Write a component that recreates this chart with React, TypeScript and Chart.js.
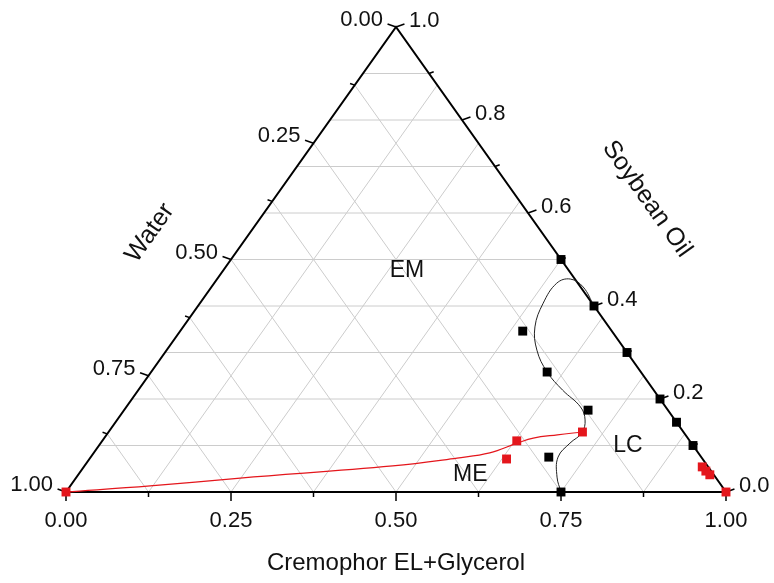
import React, { useEffect, useRef } from 'react';
import { Chart, registerables } from 'chart.js';

Chart.register(...registerables);

// Compositions as mass fractions. C = Cremophor EL+Glycerol, O = Soybean Oil, Water = 1 - C - O.
// Phase boundary between the EM region and the LC region
const boundaryCremophor = [0.6, 0.563, 0.535, 0.519, 0.52, 0.533, 0.561, 0.6, 0.643, 0.688, 0.709, 0.718, 0.711, 0.708, 0.728, 0.75];
const boundaryOil = [0.4, 0.441, 0.458, 0.449, 0.406, 0.355, 0.305, 0.258, 0.219, 0.183, 0.155, 0.127, 0.105, 0.075, 0.032, 0];

// Upper limit of the microemulsion (ME) region
const meCremophor = [0, 0.121, 0.249, 0.467, 0.556, 0.6, 0.631, 0.65, 0.683, 0.718];
const meOil = [0, 0.013, 0.03, 0.056, 0.073, 0.084, 0.105, 0.116, 0.123, 0.129];

// Measured compositions
const blackCremophor = [0.5, 0.6, 0.7, 0.8, 0.85, 0.9, 0.519, 0.6, 0.703, 0.694, 0.75];
const blackOil = [0.5, 0.4, 0.3, 0.2, 0.15, 0.1, 0.346, 0.258, 0.176, 0.075, 0];
const redCremophor = [0, 0.628, 0.718, 0.632, 0.937, 0.947, 0.957, 1];
const redOil = [0, 0.11, 0.129, 0.071, 0.054, 0.045, 0.037, 0];

// Axis ticks
const cremophorTicks = [0, 0.25, 0.5, 0.75, 1];
const cremophorLabels = ['0.00', '0.25', '0.50', '0.75', '1.00'];
const waterTicks = [0, 0.25, 0.5, 0.75, 1];
const waterLabels = ['0.00', '0.25', '0.50', '0.75', '1.00'];
const oilTicks = [0, 0.2, 0.4, 0.6, 0.8, 1];
const oilLabels = ['0.0', '0.2', '0.4', '0.6', '0.8', '1.0'];

// Region names and where they sit (C, O)
const regionNames = ['EM', 'ME', 'LC'];
const regionCremophor = [0.278, 0.594, 0.802];
const regionOil = [0.477, 0.037, 0.099];

const RED = '#e4161c';
const FONT = '"Liberation Sans", Arial, sans-serif';

// ternary (C, O) -> cartesian (x, y) in an upright triangle
const toXY = (c: number, o: number) => ({ x: c + o / 2, y: o });
const series = (cs: number[], os: number[]) => cs.map((c, i) => toXY(c, os[i]));

const ternaryFrame = {
  id: 'ternaryFrame',
  beforeDatasetsDraw(chart: any) {
    const { ctx } = chart;
    const sx = chart.scales.x;
    const sy = chart.scales.y;
    const P = (c: number, o: number): [number, number] => [
      sx.getPixelForValue(c + o / 2),
      sy.getPixelForValue(o),
    ];
    const seg = (a: [number, number], b: [number, number]) => {
      ctx.beginPath();
      ctx.moveTo(a[0], a[1]);
      ctx.lineTo(b[0], b[1]);
      ctx.stroke();
    };
    ctx.save();

    // grid
    ctx.strokeStyle = '#cccccc';
    ctx.lineWidth = 1;
    for (let k = 1; k < 8; k++) {
      const v = k / 8;
      seg(P(v, 0), P(v, 1 - v)); // constant Cremophor
      seg(P(v, 0), P(0, v)); // constant Water
    }
    for (let k = 1; k < 10; k++) {
      const o = k / 10;
      seg(P(0, o), P(1 - o, o)); // constant Oil
    }

    // triangle frame
    ctx.strokeStyle = '#000';
    ctx.lineWidth = 2;
    ctx.beginPath();
    const a = P(0, 0), b = P(1, 0), t = P(0, 1);
    ctx.moveTo(a[0], a[1]);
    ctx.lineTo(b[0], b[1]);
    ctx.lineTo(t[0], t[1]);
    ctx.closePath();
    ctx.stroke();

    // ticks
    ctx.lineWidth = 1.5;
    const dl = [-0.94, -0.34];
    const dr = [0.94, -0.34];
    for (let k = 0; k <= 8; k++) {
      const v = k / 8;
      const len = k % 2 === 0 ? 9 : 5;
      const pb = P(v, 0);
      seg(pb, [pb[0], pb[1] + len]);
      const pl = P(0, 1 - v);
      seg(pl, [pl[0] + dl[0] * len, pl[1] + dl[1] * len]);
    }
    for (let k = 0; k <= 10; k++) {
      const o = k / 10;
      const len = k % 2 === 0 ? 9 : 5;
      const pr = P(1 - o, o);
      seg(pr, [pr[0] + dr[0] * len, pr[1] + dr[1] * len]);
    }

    // tick labels
    ctx.fillStyle = '#111';
    ctx.font = `22px ${FONT}`;
    ctx.textBaseline = 'middle';
    ctx.textAlign = 'center';
    cremophorTicks.forEach((c, i) => {
      const p = P(c, 0);
      ctx.fillText(cremophorLabels[i], p[0], p[1] + 29);
    });
    ctx.textAlign = 'right';
    waterTicks.forEach((w, i) => {
      const p = P(0, 1 - w);
      ctx.fillText(waterLabels[i], p[0] - 13, p[1] - 7);
    });
    ctx.textAlign = 'left';
    oilTicks.forEach((o, i) => {
      const p = P(1 - o, o);
      ctx.fillText(oilLabels[i], p[0] + 13, p[1] - 6);
    });

    // axis titles
    ctx.font = `24px ${FONT}`;
    ctx.textAlign = 'center';
    ctx.fillText('Cremophor EL+Glycerol', (a[0] + b[0]) / 2, a[1] + 71);
    ctx.font = `25px ${FONT}`;
    const edgeAngle = Math.atan2(a[1] - t[1], t[0] - a[0]);
    ctx.save();
    ctx.translate(150, 233);
    ctx.rotate(-edgeAngle);
    ctx.fillText('Water', 0, 0);
    ctx.restore();
    ctx.save();
    ctx.translate(647, 199);
    ctx.rotate(edgeAngle);
    ctx.fillText('Soybean Oil', 0, 0);
    ctx.restore();

    // region names
    ctx.font = `23px ${FONT}`;
    regionNames.forEach((n, i) => {
      const p = P(regionCremophor[i], regionOil[i]);
      ctx.fillText(n, p[0], p[1]);
    });

    ctx.restore();
  },
};

export default function App() {
  const canvasRef = useRef<HTMLCanvasElement>(null);

  useEffect(() => {
    const canvas = canvasRef.current;
    if (!canvas) return;
    const chart = new Chart(canvas, {
      type: 'scatter',
      data: {
        datasets: [
          {
            data: series(blackCremophor, blackOil),
            pointStyle: 'rect',
            pointRadius: 6.3,
            backgroundColor: '#000',
            borderWidth: 0,
            showLine: false,
            clip: false,
          },
          {
            data: series(redCremophor, redOil),
            pointStyle: 'rect',
            pointRadius: 6.3,
            backgroundColor: RED,
            borderWidth: 0,
            showLine: false,
            clip: false,
          },
          {
            data: series(boundaryCremophor, boundaryOil),
            showLine: true,
            borderColor: '#222',
            borderWidth: 1,
            pointRadius: 0,
            tension: 0.4,
            clip: false,
          },
          {
            data: series(meCremophor, meOil),
            showLine: true,
            borderColor: RED,
            borderWidth: 1.2,
            pointRadius: 0,
            tension: 0.4,
            clip: false,
          },
        ] as any,
      },
      options: {
        animation: false,
        responsive: false,
        events: [],
        layout: { padding: { left: 66, top: 27, right: 48, bottom: 91 } },
        plugins: { legend: { display: false }, tooltip: { enabled: false } },
        scales: {
          x: { type: 'linear', min: 0, max: 1, display: false },
          y: { type: 'linear', min: 0, max: 1, display: false },
        },
      },
      plugins: [ternaryFrame],
    });
    return () => chart.destroy();
  }, []);

  return (
    <div style={{ position: 'fixed', left: 0, top: 0, width: 774, height: 583, background: '#fff' }}>
      <canvas ref={canvasRef} width={774} height={583} />
    </div>
  );
}
